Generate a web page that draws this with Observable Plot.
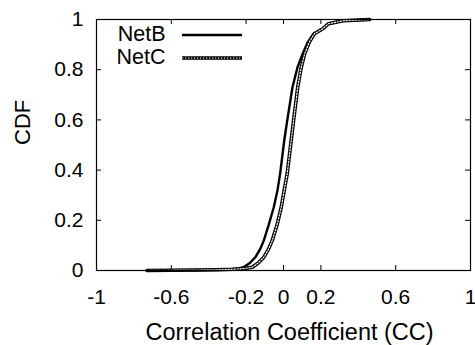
<!DOCTYPE html>
<html>
<head>
<meta charset="utf-8">
<script src="https://cdn.jsdelivr.net/npm/d3@7"></script>
<script src="https://cdn.jsdelivr.net/npm/@observablehq/plot@0.6"></script>
<style>
  html, body { margin: 0; padding: 0; background: white; }
  #chart { position: relative; width: 475px; height: 345px; }
</style>
</head>
<body>
<div id="chart"></div>
<script>
// ---- data ----
const seriesNames = ["NetB", "NetC"];
const netB_x = [-0.73, -0.6, -0.45, -0.35, -0.28, -0.24, -0.214, -0.18, -0.15, -0.125, -0.105, -0.08, -0.052, -0.032, -0.018, 0.004, 0.02, 0.048, 0.075, 0.102, 0.13, 0.16, 0.21, 0.24, 0.32, 0.46];
const netB_y = [0, 0.001, 0.002, 0.003, 0.005, 0.008, 0.013, 0.03, 0.053, 0.085, 0.12, 0.18, 0.252, 0.32, 0.386, 0.518, 0.598, 0.73, 0.81, 0.863, 0.91, 0.943, 0.963, 0.983, 0.995, 1];
const netC_x = [-0.73, -0.6, -0.45, -0.35, -0.27, -0.21, -0.167, -0.135, -0.105, -0.08, -0.06, -0.035, -0.012, 0.004, 0.02, 0.041, 0.054, 0.076, 0.095, 0.113, 0.138, 0.165, 0.21, 0.24, 0.32, 0.46];
const netC_y = [0, 0.001, 0.002, 0.003, 0.005, 0.008, 0.013, 0.03, 0.053, 0.085, 0.12, 0.18, 0.252, 0.32, 0.386, 0.518, 0.598, 0.73, 0.81, 0.863, 0.91, 0.943, 0.963, 0.983, 0.995, 1];
const xTicks = [-1, -0.6, -0.2, 0, 0.2, 0.6, 1];
const yTicks = [0, 0.2, 0.4, 0.6, 0.8, 1];
const xLabel = "Correlation Coefficient (CC)";
const yLabel = "CDF";

const netB = netB_x.map((x, i) => ({x, y: netB_y[i]}));
const netC = netC_x.map((x, i) => ({x, y: netC_y[i]}));

const W = 475, H = 345, mL = 96, mR = 5, mT = 19, mB = 75;
const pw = W - mL - mR, ph = H - mT - mB;
const font = "'Liberation Sans', Arial, Helvetica, sans-serif";

const chart = Plot.plot({
  width: W, height: H,
  marginLeft: mL, marginRight: mR, marginTop: mT, marginBottom: mB,
  x: {domain: [-1, 1]},
  y: {domain: [0, 1]},
  style: {fontFamily: font, fontSize: "21px", color: "black", background: "white", overflow: "visible"},
  marks: [
    // inward ticks (mirrored, gnuplot style)
    Plot.tickX(xTicks, {x: d => d, insetTop: ph - 5, stroke: "black", strokeWidth: 1}),
    Plot.tickX(xTicks, {x: d => d, insetBottom: ph - 5, stroke: "black", strokeWidth: 1}),
    Plot.tickY(yTicks, {y: d => d, insetRight: pw - 5, stroke: "black", strokeWidth: 1}),
    Plot.tickY(yTicks, {y: d => d, insetLeft: pw - 5, stroke: "black", strokeWidth: 1}),
    Plot.axisX(xTicks, {tickSize: 0, tickPadding: 19, tickFormat: d => String(d), label: null, fontSize: 21}),
    Plot.axisY(yTicks, {tickSize: 0, tickPadding: 13, tickFormat: d => String(d), label: null, fontSize: 21}),
    // curves
    Plot.line(netB, {x: "x", y: "y", stroke: "black", strokeWidth: 2.4}),
    Plot.line(netC, {x: "x", y: "y", stroke: "black", strokeWidth: 3.6}),
    Plot.line(netC, {x: "x", y: "y", stroke: "white", strokeWidth: 1.2, strokeDasharray: "1.3,1.7"}),
    Plot.frame({stroke: "black", strokeWidth: 1.2}),
    // axis titles
    Plot.text([xLabel], {frameAnchor: "bottom", lineAnchor: "middle", dx: 6, dy: 62, fontSize: 23.5, fill: "black"}),
    Plot.text([yLabel], {frameAnchor: "left", lineAnchor: "middle", dx: -74, rotate: -90, fontSize: 22, fill: "black"}),
    // legend labels
    Plot.text([seriesNames[0]], {frameAnchor: "top-left", lineAnchor: "middle", textAnchor: "end", dx: 69, dy: 15, fontSize: 21.5, fill: "black"}),
    Plot.text([seriesNames[1]], {frameAnchor: "top-left", lineAnchor: "middle", textAnchor: "end", dx: 69, dy: 38, fontSize: 21.5, fill: "black"})
  ]
});

// legend line samples
const svg = d3.select(chart);
const lg = svg.append("g");
lg.append("line").attr("x1", mL + 86).attr("x2", mL + 146).attr("y1", mT + 16).attr("y2", mT + 16)
  .attr("stroke", "black").attr("stroke-width", 2.4);
lg.append("line").attr("x1", mL + 86).attr("x2", mL + 146).attr("y1", mT + 39).attr("y2", mT + 39)
  .attr("stroke", "black").attr("stroke-width", 3.6);
lg.append("line").attr("x1", mL + 86).attr("x2", mL + 146).attr("y1", mT + 39).attr("y2", mT + 39)
  .attr("stroke", "white").attr("stroke-width", 1.2).attr("stroke-dasharray", "1.3,1.7");

document.getElementById("chart").appendChild(chart);
</script>
</body>
</html>
